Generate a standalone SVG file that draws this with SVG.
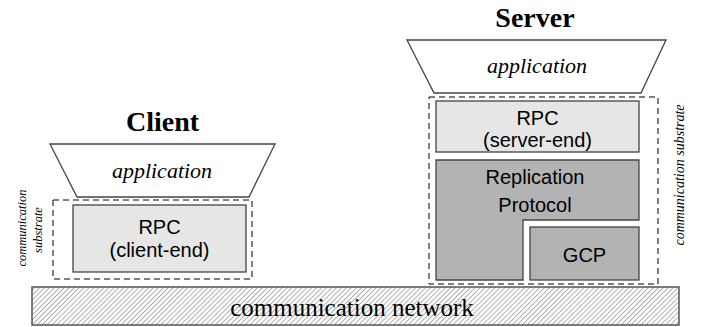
<svg xmlns="http://www.w3.org/2000/svg" width="704" height="327" viewBox="0 0 704 327">
<style>
.title{font-family:"Liberation Serif",serif;font-weight:bold;font-size:28px;text-anchor:middle;fill:#000}
.app{font-family:"Liberation Serif",serif;font-style:italic;font-size:22px;text-anchor:middle;fill:#000}
.sub{font-family:"Liberation Serif",serif;font-style:italic;font-size:14px;text-anchor:middle;fill:#000}
.subs{font-family:"Liberation Serif",serif;font-style:italic;font-size:12.5px;text-anchor:middle;fill:#000}
.lbl{font-family:"Liberation Sans",sans-serif;font-size:20px;text-anchor:middle;fill:#000}
.net{font-family:"Liberation Serif",serif;font-size:25px;text-anchor:middle;fill:#000}
.trap{fill:#fff;stroke:#444;stroke-width:1.3}
.light{fill:#e6e6e6;stroke:#444;stroke-width:1.3}
.dark{fill:#b3b3b3;stroke:#444;stroke-width:1.3}
.dash{fill:none;stroke:#000;stroke-width:1;stroke-dasharray:6 4}
</style>
<defs>
<pattern id="hatch" width="3.5" height="3.5" patternUnits="userSpaceOnUse" patternTransform="rotate(45)">
<rect width="3.5" height="3.5" fill="#fff"/>
<line x1="0" y1="0" x2="0" y2="3.5" stroke="#666" stroke-width="1"/>
</pattern>
</defs>

<g id="network">
<rect x="32" y="287" width="647" height="38" fill="url(#hatch)" stroke="#555" stroke-width="1.5"/>
<text class="net" x="352" y="316">communication network</text>
</g>

<g id="client">
<text class="title" x="162.5" y="131">Client</text>
<g id="client-app">
<polygon class="trap" points="50,144 275,144 249,197 77,197"/>
<text class="app" x="162" y="178">application</text>
</g>
<g id="client-substrate">
<rect class="dash" x="53" y="200" width="199" height="79"/>
<text class="subs" transform="translate(26,228) rotate(-90)">communication</text>
<text class="subs" transform="translate(42,230) rotate(-90)">substrate</text>
</g>
<g id="client-rpc">
<rect class="light" x="73" y="205" width="173" height="67"/>
<text class="lbl" x="159.5" y="234">RPC</text>
<text class="lbl" x="159.5" y="257">(client-end)</text>
</g>
</g>

<g id="server">
<text class="title" x="535" y="27">Server</text>
<g id="server-app">
<polygon class="trap" points="407,40 666,40 641,93 434,93"/>
<text class="app" x="537" y="73">application</text>
</g>
<g id="server-substrate">
<rect class="dash" x="429" y="97" width="229" height="187"/>
<text class="sub" transform="translate(684,175) rotate(-90)">communication substrate</text>
</g>
<g id="server-rpc">
<rect class="light" x="436" y="101" width="203" height="51"/>
<text class="lbl" x="537.5" y="125">RPC</text>
<text class="lbl" x="537.5" y="147">(server-end)</text>
</g>
<g id="replication">
<path class="dark" d="M436,160 H639 V220 H523 V280 H436 Z"/>
<text class="lbl" x="535" y="184">Replication</text>
<text class="lbl" x="535" y="212">Protocol</text>
</g>
<g id="gcp">
<rect class="dark" x="530" y="227" width="109" height="53"/>
<text class="lbl" x="584.5" y="262">GCP</text>
</g>
</g>
</svg>
